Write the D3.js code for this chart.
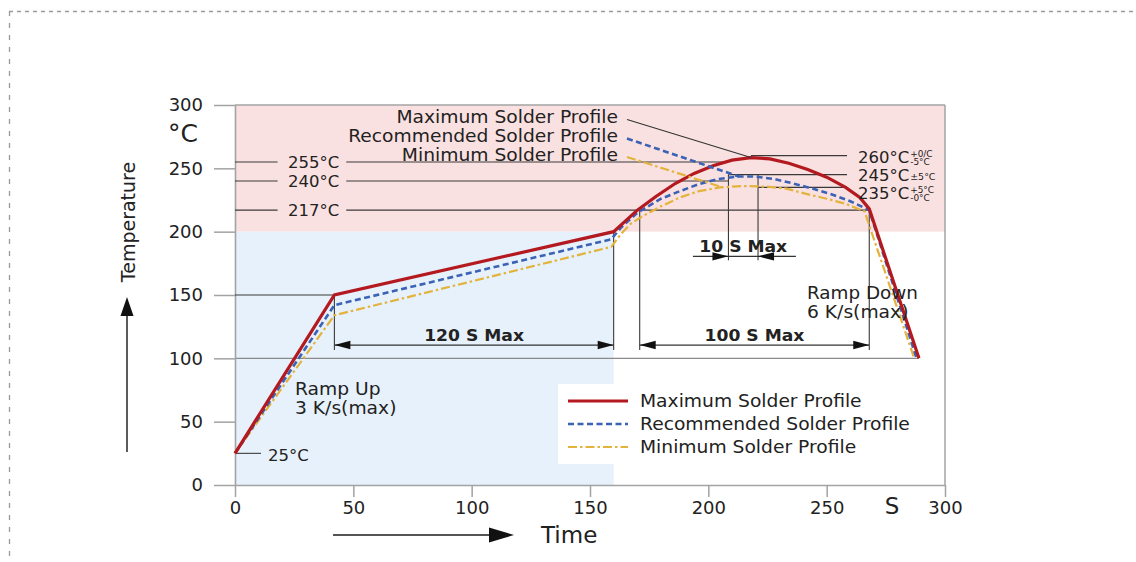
<!DOCTYPE html>
<html><head><meta charset="utf-8">
<script src="https://cdn.jsdelivr.net/npm/d3@7"></script>
<style>body{margin:0;background:#fff}svg{display:block}text{font-family:"DejaVu Sans",Verdana,sans-serif;fill:#222}</style>
</head><body><svg id="c" width="1136" height="562"></svg>
<script>
// ---- data ----
const xTicks = [0, 50, 100, 150, 200, 250, 300];
const yTicks = [0, 50, 100, 150, 200, 250, 300];
const maxTime = [0, 42, 160, 170, 178, 186, 194, 202, 210, 218, 226, 234, 242, 250, 258, 264, 268, 289];
const maxTemp = [25, 150, 200, 217, 228, 238, 246, 252, 256.5, 258.5, 257.5, 254, 249, 243, 235, 227, 218, 100];
const recTime = [0, 42, 159, 163, 170, 180, 188, 196, 204, 212, 220, 228, 236, 244, 252, 260, 268, 288];
const recTemp = [25, 142, 194, 203, 215, 226, 232, 237.5, 241.5, 243.5, 243.5, 241.5, 238, 234, 229.5, 224, 217, 100];
const minTime = [0, 42, 159, 163, 167, 172, 180, 188, 196, 205, 215, 225, 233, 241, 250, 258, 266, 287];
const minTemp = [25, 134, 188, 198, 206, 212, 220, 227, 232, 235, 236, 235.5, 234, 230, 226, 222, 216, 100];
const seriesNames = ["Maximum Solder Profile", "Recommended Solder Profile", "Minimum Solder Profile"];
const leaderTargets = [[218, 258.5], [213, 243.5], [206, 235]];
const peakLevels = [260, 245, 235];
const leftLevels = [255, 240, 217];
const dimSpans = [[42, 160, "120 S Max"], [171, 268, "100 S Max"], [208.5, 221, "10 S Max"]];

// ---- styles ----
const colors = ["#b3191f", "#3a62b5", "#e3b33c"];
const dashes = [null, "6,3.5", "9,3,2.5,3"];
const widths = [3.2, 2.6, 2.2];

const svg = d3.select("#c");
const x = d3.scaleLinear().domain([0, 300]).range([235, 945]);
const y = d3.scaleLinear().domain([0, 300]).range([485, 105]);
const axisCol = "#a3a3a3";

// stretched text helper (reference face is a wide Verdana-like font)
function txt(px, py, s, size, sx = 1.1, anchor = "start", extra = {}) {
  const t = svg.append("text").attr("transform", `translate(${px},${py}) scale(${sx},1)`)
    .attr("font-size", size).attr("text-anchor", anchor).text(s);
  Object.entries(extra).forEach(([k, v]) => t.attr(k, v));
  return t;
}

// page dashed border
svg.append("line").attr("x1", 9).attr("x2", 1136).attr("y1", 11.5).attr("y2", 11.5)
  .attr("stroke", "#9a9a9a").attr("stroke-width", 1.3).attr("stroke-dasharray", "4,4");
svg.append("line").attr("x1", 9.5).attr("x2", 9.5).attr("y1", 11).attr("y2", 562)
  .attr("stroke", "#9a9a9a").attr("stroke-width", 1.3).attr("stroke-dasharray", "5,7");

// background regions
svg.append("rect").attr("x", x(0)).attr("y", y(300)).attr("width", x(300) - x(0)).attr("height", y(200) - y(300)).attr("fill", "#fae1e1");
svg.append("rect").attr("x", x(0)).attr("y", y(200)).attr("width", x(160) - x(0)).attr("height", y(0) - y(200)).attr("fill", "#e7f1fb");

// frame lines
svg.append("line").attr("x1", x(0)).attr("x2", x(300)).attr("y1", y(300)).attr("y2", y(300)).attr("stroke", axisCol).attr("stroke-width", 1.5);
svg.append("line").attr("x1", x(300)).attr("x2", x(300)).attr("y1", y(300)).attr("y2", y(0)).attr("stroke", axisCol).attr("stroke-width", 1.5);
svg.append("line").attr("x1", x(0)).attr("x2", x(289)).attr("y1", y(100)).attr("y2", y(100)).attr("stroke", "#8a8a8a").attr("stroke-width", 1.2);

// axes
const gy = svg.append("g").attr("transform", `translate(${x(0)},0)`)
  .call(d3.axisLeft(y).tickValues(yTicks).tickSize(21).tickSizeOuter(0).tickPadding(11));
gy.selectAll("text").attr("font-size", 18).attr("font-family", "DejaVu Sans").attr("fill", "#222");
const gx = svg.append("g").attr("transform", `translate(0,${y(0)})`)
  .call(d3.axisBottom(x).tickValues(xTicks).tickSize(12).tickSizeOuter(0).tickPadding(4));
gx.selectAll("text").attr("font-size", 18).attr("font-family", "DejaVu Sans Condensed").attr("fill", "#222");
[gx, gy].forEach(g => { g.selectAll("path,line").attr("stroke", axisCol).attr("stroke-width", 1.5); g.select(".domain").attr("stroke-width", 1.6); });

// helpers
const ann = "#3a3a3a";
function seg(t1, v1, t2, v2, w = 1.1, col = ann) {
  svg.append("line").attr("x1", x(t1)).attr("y1", y(v1)).attr("x2", x(t2)).attr("y2", y(v2)).attr("stroke", col).attr("stroke-width", w);
}
function head(px, py, dir, len = 16, hw = 4.2) {
  let pts;
  if (dir === "right") pts = [[px, py], [px - len, py - hw], [px - len, py + hw]];
  else if (dir === "left") pts = [[px, py], [px + len, py - hw], [px + len, py + hw]];
  else pts = [[px, py], [px - hw, py + len], [px + hw, py + len]];
  svg.append("path").attr("d", "M" + pts.join("L") + "Z").attr("fill", "#111");
}

// left level lines with labels
leftLevels.forEach(v => {
  const endT = v === 255 ? 206.5 : v === 240 ? 208.5 : 268;
  seg(0, v, 18, v); seg(47, v, endT, v);
  txt(288, y(v), v + "°C", 16, 1.03, "start", { dy: "0.35em" });
});
// 150 line and 25 line
seg(0, 150, 42, 150); seg(0, 25, 11, 25);
txt(268, y(25) + 2, "25°C", 16, 1.03, "start", { dy: "0.35em" });

// peak level lines
seg(218, 260, 258.6, 260);
seg(208.5, 245, 258.6, 245);
seg(221, 235, 258.6, 235);
// 10 s vertical markers
seg(208.5, 245, 208.5, 177.5); seg(221, 245, 221, 177.5);

// dimension verticals
seg(42, 150, 42, 106.5); seg(160, 200, 160, 106.5);
seg(171, 217, 171, 106.5); seg(268, 217, 268, 106.5);

// dimension lines
const dimY = [110.5, 110.5, 180.5];
dimSpans.forEach((d, i) => {
  if (i < 2) {
    seg(d[0], dimY[i], d[1], dimY[i], 1.2, "#333");
    head(x(d[0]), y(dimY[i]), "left"); head(x(d[1]), y(dimY[i]), "right");
  } else {
    seg(193.5, dimY[i], 237, dimY[i], 1.2, "#333");
    head(x(d[0]), y(dimY[i]), "right"); head(x(d[1]), y(dimY[i]), "left");
  }
  txt((x(d[0]) + x(d[1])) / 2, y(dimY[i]) - 4, d[2], 16.5, 1.04, "middle", { "font-weight": "bold" });
});

// series
const line = d3.line().x(d => x(d[0])).y(d => y(d[1]));
const series = [d3.zip(maxTime, maxTemp), d3.zip(recTime, recTemp), d3.zip(minTime, minTemp)];
[2, 1, 0].forEach(i => {
  svg.append("path").datum(series[i]).attr("d", line).attr("fill", "none").attr("stroke", colors[i])
    .attr("stroke-width", widths[i]).attr("stroke-dasharray", dashes[i]).attr("stroke-linejoin", "miter");
});

// series labels + leaders
const labY = [117.5, 136.5, 155];
seriesNames.forEach((n, i) => {
  txt(618, labY[i], n, 17, 1.1, "end", { dy: "0.35em" });
  const lt = leaderTargets[i];
  svg.append("line").attr("x1", 627).attr("y1", labY[i] + 2).attr("x2", x(lt[0])).attr("y2", y(lt[1]))
    .attr("stroke", i === 0 ? "#333" : colors[i]).attr("stroke-width", i === 0 ? 1.1 : widths[i])
    .attr("stroke-dasharray", dashes[i]);
});

// right temperature labels with tolerances
const rightLab = [
  { v: "260°C", cy: 157.5, sup: "+0/C", sub: "-5°C" },
  { v: "245°C", cy: 176, mid: "±5°C" },
  { v: "235°C", cy: 194, sup: "+5°C", sub: "-0°C" }
];
rightLab.forEach(r => {
  const t = txt(858, r.cy, r.v, 15, 1.1, "start", { dy: "0.35em" });
  const w = t.node().getComputedTextLength() * 1.1;
  const sx = 858 + w + 1;
  if (r.mid) {
    txt(sx, r.cy + 4, r.mid, 9, 1.05);
  } else {
    txt(sx, r.cy - 1, r.sup, 8.5, 1.05);
    txt(sx, r.cy + 7, r.sub, 8.5, 1.05);
  }
});

// ramp texts
txt(295, 395, "Ramp Up", 17, 1.1);
txt(295, 414, "3 K/s(max)", 17, 1.1);
txt(807, 299, "Ramp Down", 17, 1.08);
txt(807, 318, "6 K/s(max)", 17, 1.1);

// legend
svg.append("rect").attr("x", 558).attr("y", 384).attr("width", 372).attr("height", 80).attr("fill", "#fff");
seriesNames.forEach((n, i) => {
  const ly = 401 + i * 23;
  svg.append("line").attr("x1", 568).attr("x2", 628).attr("y1", ly).attr("y2", ly).attr("stroke", colors[i])
    .attr("stroke-width", widths[i]).attr("stroke-dasharray", dashes[i]);
  txt(640, ly, n, 17, 1.1, "start", { dy: "0.35em" });
});

// axis titles
svg.append("text").attr("x", 168).attr("y", 142).attr("font-size", 25).text("°C");
svg.append("text").attr("transform", "translate(128,222) rotate(-90)").attr("text-anchor", "middle").attr("dy", "0.35em").attr("font-size", 19).text("Temperature");
svg.append("line").attr("x1", 127).attr("x2", 127).attr("y1", 452).attr("y2", 314).attr("stroke", "#333").attr("stroke-width", 1.6);
head(127, 297, "up", 19, 6.5);
svg.append("text").attr("x", 892).attr("y", 506).attr("dy", "0.35em").attr("text-anchor", "middle").attr("font-size", 23).text("S");
svg.append("text").attr("x", 541).attr("y", 535).attr("dy", "0.35em").attr("font-size", 23).attr("font-family", "DejaVu Sans Condensed").text("Time");
svg.append("line").attr("x1", 333).attr("x2", 492).attr("y1", 535).attr("y2", 535).attr("stroke", "#555").attr("stroke-width", 1.8);
(function () { const px = 514, py = 535; svg.append("path").attr("d", `M${px},${py}L${px - 25},${py - 7.5}L${px - 25},${py + 7.5}Z`).attr("fill", "#111"); })();
</script></body></html>
